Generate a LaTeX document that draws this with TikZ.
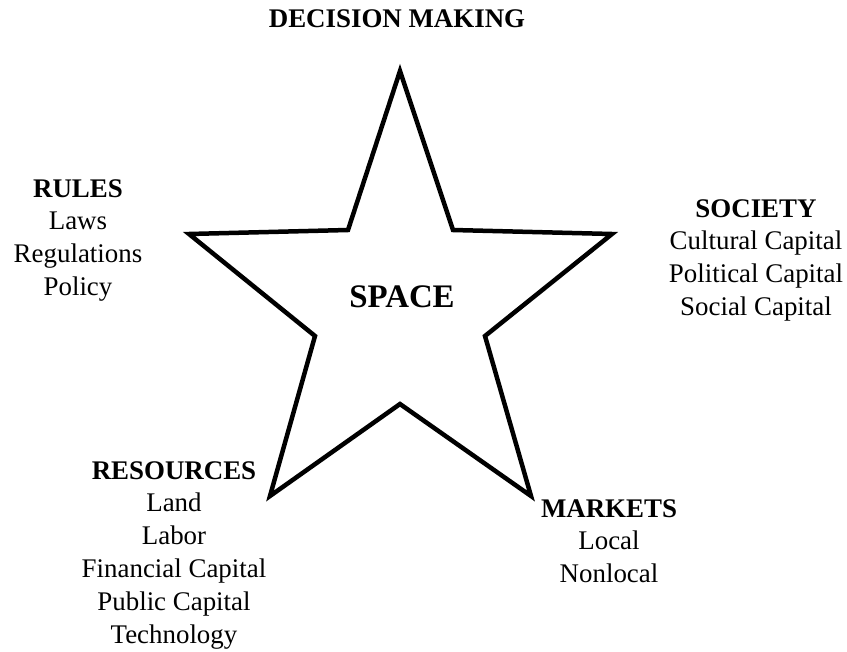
\documentclass[tikz,border=0pt]{standalone}
\usepackage{fontspec}
\setmainfont{Liberation Serif}
\usepackage{tikz}

\begin{document}
\begin{tikzpicture}[x=1bp,y=-1bp,line join=miter]
    \tikzstyle{block}=[align=center, anchor=north, inner sep=0pt, font=\fontsize{27}{33}\selectfont]
    \tikzstyle{title}=[anchor=base, inner sep=0pt, font=\fontsize{33}{40}\selectfont\bfseries]
    \tikzstyle{starline}=[draw=black, line width=4.5bp]
    \useasboundingbox (0,0) rectangle (847,652);

    % the star
    \draw[starline] (400,71) -- (348,230) -- (189,234) -- (315,336) -- (270,496)
        -- (400,404) -- (531,496) -- (485,336) -- (612,234) -- (453,230) -- cycle;

    \node[title] (space) at (402,307) {SPACE};

    \node[block] (decision)  at (397,9)   {\textbf{DECISION MAKING}};
    \node[block] (rules)     at (78,179)  {\textbf{RULES}\\Laws\\Regulations\\Policy};
    \node[block] (society)   at (756,199) {\textbf{SOCIETY}\\Cultural Capital\\Political Capital\\Social Capital};
    \node[block] (resources) at (174,461) {\textbf{RESOURCES}\\Land\\Labor\\Financial Capital\\Public Capital\\Technology};
    \node[block] (markets)   at (609,499) {\textbf{MARKETS}\\Local\\Nonlocal};
\end{tikzpicture}
\end{document}
